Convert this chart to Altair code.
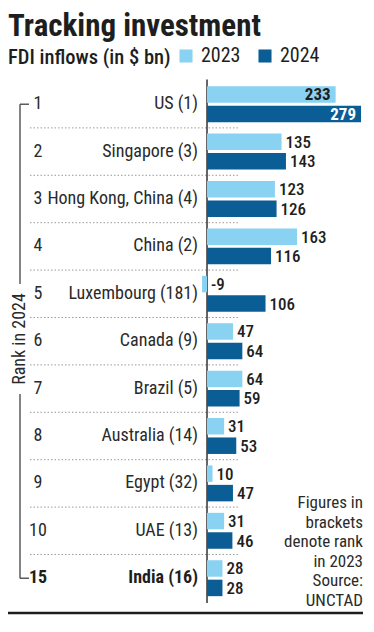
import altair as alt
import pandas as pd

countries = ["US (1)", "Singapore (3)", "Hong Kong, China (4)", "China (2)",
             "Luxembourg (181)", "Canada (9)", "Brazil (5)", "Australia (14)",
             "Egypt (32)", "UAE (13)", "India (16)"]
ranks_2024 = ["1", "2", "3", "4", "5", "6", "7", "8", "9", "10", "15"]
fdi_2023 = [233, 135, 123, 163, -9, 47, 64, 31, 10, 31, 28]
fdi_2024 = [279, 143, 126, 116, 106, 64, 59, 53, 47, 46, 28]
years = ["2023", "2024"]
highlight = ["India (16)"]
note_lines = ["Figures in", "brackets", "denote rank", "in 2023", "Source:", "UNCTAD"]

LIGHT = "#8ad2f2"
DARK = "#0b5d96"
INK = "#1e1e1e"
GREY = "#2a2a2a"
FONT = "Roboto Condensed, Liberation Sans Narrow, Roboto, sans-serif"

long = pd.DataFrame(
    [{"country": c, "idx": i, "year": "2023", "value": v} for i, (c, v) in enumerate(zip(countries, fdi_2023))]
    + [{"country": c, "idx": i, "year": "2024", "value": v} for i, (c, v) in enumerate(zip(countries, fdi_2024))]
)
rows = pd.DataFrame({"country": countries, "idx": list(range(len(countries))),
                     "rank": ranks_2024, "bold": [c in highlight for c in countries]})
one = pd.DataFrame({"zero": [0], "note": ["\n".join(note_lines)], "rank_title": ["Rank in 2024"]})

W, H, TOP = 358, 544, 64
yscale = alt.Scale(domain=[-0.5736, 10.692], range=[0, H], nice=False, zero=False)
xscale = alt.Scale(domain=[-360.5, 288.0], nice=False, zero=False)

base_long = alt.Chart(long).transform_calculate(
    pos="datum.idx + (datum.year == '2023' ? -0.205 : 0.205)",
    lx="max(datum.value, 0)",
    base="0",
    label="'' + datum.value",
)
YP = alt.Y("pos:Q", scale=yscale, axis=None)
YR = alt.Y("idx:Q", scale=yscale, axis=None)

bars = base_long.mark_bar(height=16.5).encode(
    x=alt.X("value:Q", scale=xscale, axis=None),
    x2="base:Q",
    y=YP,
    color=alt.Color("year:N", scale=alt.Scale(domain=years, range=[LIGHT, DARK]),
                    legend=alt.Legend(orient="none", legendX=168, legendY=-26,
                                      direction="horizontal", title=None,
                                      symbolType="square", symbolSize=170,
                                      symbolStrokeWidth=0, labelFontSize=20,
                                      labelFont=FONT, labelColor=INK,
                                      columnPadding=14, labelOffset=5)),
)

out_labels = base_long.transform_filter("datum.value <= 200").mark_text(
    align="left", baseline="middle", dx=4, dy=1, font=FONT, fontSize=17,
    fontWeight=500, color=INK).encode(
    x=alt.X("lx:Q", scale=xscale, axis=None), y=YP, text="label:N")

in_labels = base_long.transform_filter("datum.value > 200").mark_text(
    align="right", baseline="middle", dx=-5, dy=1, font=FONT, fontSize=17,
    fontWeight="bold").encode(
    x=alt.X("value:Q", scale=xscale, axis=None), y=YP, text="label:N",
    color=alt.condition("datum.year == '2024'", alt.value("white"), alt.value(INK)))

country_reg = alt.Chart(rows).transform_filter("!datum.bold").mark_text(
    align="right", baseline="middle", font=FONT, fontSize=18, color=GREY).encode(
    x=alt.value(190), y=YR, text="country:N")
country_bold = alt.Chart(rows).transform_filter("datum.bold").mark_text(
    align="right", baseline="middle", font=FONT, fontSize=18, fontWeight="bold",
    color=INK).encode(x=alt.value(190), y=YR, text="country:N")

rank_reg = alt.Chart(rows).transform_filter("!datum.bold").mark_text(
    align="center", baseline="middle", font=FONT, fontSize=18, color=GREY).encode(
    x=alt.value(30), y=YR, text="rank:N")
rank_bold = alt.Chart(rows).transform_filter("datum.bold").mark_text(
    align="center", baseline="middle", font=FONT, fontSize=18, fontWeight="bold",
    color=INK).encode(x=alt.value(30), y=YR, text="rank:N")

separators = alt.Chart(rows).transform_filter("datum.idx > 0").transform_calculate(
    sep="datum.idx - 0.5").mark_rule(
    color="#9a9a9a", strokeDash=[1.5, 2], strokeWidth=1).encode(
    y=alt.Y("sep:Q", scale=yscale, axis=None),
    x=alt.value(22), x2=alt.value(232))

zero_line = alt.Chart(one).mark_rule(color="#333", strokeWidth=1.5).encode(
    x=alt.X("zero:Q", scale=xscale, axis=None), y=alt.value(7.6), y2=alt.value(531))

bracket = alt.Chart(rows).transform_aggregate(
    top="min(idx)", bottom="max(idx)").mark_rule(color="#333", strokeWidth=1.2).encode(
    x=alt.value(12), y=alt.Y("top:Q", scale=yscale, axis=None), y2="bottom:Q")
bracket_ticks = alt.Chart(rows).transform_filter(
    f"datum.idx == 0 || datum.idx == {len(countries) - 1}").mark_rule(
    color="#333", strokeWidth=1.2).encode(y=YR, x=alt.value(12), x2=alt.value(21))

rank_bg = alt.Chart(one).mark_rect(color="white").encode(
    x=alt.value(3), x2=alt.value(21), y=alt.value(212), y2=alt.value(322))
rank_title = alt.Chart(one).mark_text(
    angle=270, align="center", baseline="middle", font=FONT, fontSize=18,
    color=GREY).encode(x=alt.value(12), y=alt.value(267), text="rank_title:N")

notes = alt.Chart(one).mark_text(
    align="right", baseline="top", font=FONT, fontSize=17, lineHeight=19.5,
    lineBreak="\n", color=GREY).encode(
    x=alt.value(355), y=alt.value(423), text="note:N")

bottom_rule = alt.Chart(one).mark_rule(color=INK, strokeWidth=2.5).encode(
    x=alt.value(0), x2=alt.value(355), y=alt.value(541))

chart = alt.layer(
    separators, zero_line, bracket, bracket_ticks, rank_bg, rank_title,
    bars, out_labels, in_labels, country_reg, country_bold, rank_reg, rank_bold,
    notes, bottom_rule,
).properties(
    width=W, height=H,
    title=alt.TitleParams(text="Tracking investment", subtitle="FDI inflows (in $ bn)",
                          anchor="start", frame="group", font=FONT, fontSize=31,
                          fontWeight="bold", color=INK, subtitleFont=FONT,
                          subtitleFontSize=20.5, subtitleFontWeight=500,
                          subtitleColor=INK, subtitlePadding=5, offset=-23),
    autosize=alt.AutoSizeParams(type="none"),
    padding={"top": TOP, "left": 0, "right": 0, "bottom": 0},
).configure_view(stroke=None)

chart.save("out.html", embed_options={"renderer": "svg", "actions": False})
